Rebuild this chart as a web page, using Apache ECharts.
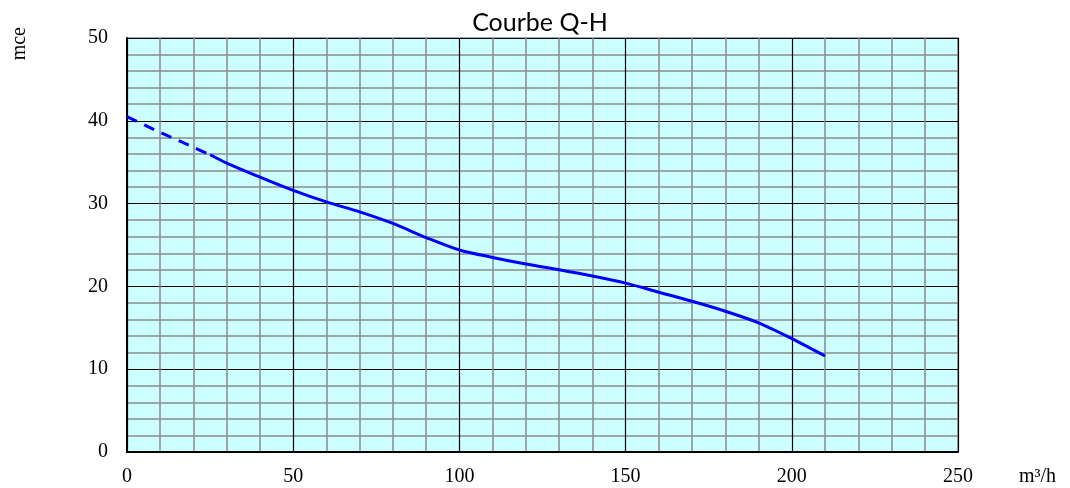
<!DOCTYPE html>
<html>
<head>
<meta charset="utf-8">
<script src="https://cdn.jsdelivr.net/npm/echarts@6/dist/echarts.min.js"></script>
<style>
  html, body { margin: 0; padding: 0; background: #fff; }
  #Chart { width: 1070px; height: 488px; }
</style>
</head>
<body>
<div id="Chart"></div>
<script>
// partie extrapolée (pointillés)
var qDash = [0, 10, 20, 25];
var hDash = [40.5, 38.6, 36.8, 35.9];
// partie mesurée
var qSolid = [25, 30, 40, 50, 60, 70, 80, 90, 100, 110, 120, 130, 140, 150, 160, 170, 180, 190, 200, 210];
var hSolid = [35.9, 34.9, 33.2, 31.6, 30.2, 29.0, 27.6, 25.9, 24.4, 23.5, 22.7, 22.0, 21.25, 20.4, 19.3, 18.2, 17.0, 15.6, 13.7, 11.6];

function pairs(xs, ys) {
    return xs.map(function (x, i) { return [x, ys[i]]; });
}

var myChart = echarts.init(document.getElementById('Chart'));
var serif = 'Liberation Serif';

var option = {
    animation: false,
    title: {
        text: 'Courbe Q-H',
        left: 535,
        textAlign: 'center',
        top: 5,
        textStyle: { fontFamily: 'Lato', fontSize: 25, fontWeight: 'normal', color: '#000' }
    },
    grid: {
        left: 127, right: 112, top: 38, bottom: 36,
        show: true,
        backgroundColor: '#ccffff',
        borderColor: '#8c8c8c',
        borderWidth: 1.5
    },
    xAxis: {
        type: 'value',
        min: 0, max: 250, interval: 50,
        name: 'm³/h',
        nameLocation: 'end',
        nameGap: 61,
        nameTextStyle: { fontFamily: serif, fontSize: 20, color: '#000', verticalAlign: 'top', padding: [15, 0, 0, 0] },
        axisLine: { show: true, lineStyle: { color: '#000', width: 2 } },
        axisTick: { show: false },
        axisLabel: { fontFamily: serif, fontSize: 20, color: '#000', margin: 15 },
        splitLine: { show: true, lineStyle: { color: '#000', width: 1.2 } },
        minorTick: { show: false, splitNumber: 5 },
        minorSplitLine: { show: true, lineStyle: { color: '#8c8c8c', width: 1.5 } }
    },
    yAxis: {
        type: 'value',
        min: 0, max: 50, interval: 10,
        axisLine: { show: true, lineStyle: { color: '#000', width: 2 } },
        axisTick: { show: false },
        axisLabel: { fontFamily: serif, fontSize: 20, color: '#000', margin: 19 },
        splitLine: { show: true, lineStyle: { color: '#000', width: 1.2 } },
        minorTick: { show: false, splitNumber: 5 },
        minorSplitLine: { show: true, lineStyle: { color: '#8c8c8c', width: 1.5 } }
    },
    graphic: [{
        type: 'text',
        left: 10,
        top: 27,
        rotation: Math.PI / 2,
        style: { text: 'mce', fontFamily: serif, fontSize: 20, fill: '#000' }
    }],
    series: [
        {
            type: 'line',
            data: pairs(qDash, hDash),
            smooth: 0.3,
            symbol: 'none',
            lineStyle: { color: '#0000ff', width: 3, type: [11, 8] }
        },
        {
            type: 'line',
            data: pairs(qSolid, hSolid),
            smooth: 0.3,
            symbol: 'none',
            lineStyle: { color: '#0000ff', width: 3 }
        }
    ]
};
myChart.setOption(option);
</script>
</body>
</html>
